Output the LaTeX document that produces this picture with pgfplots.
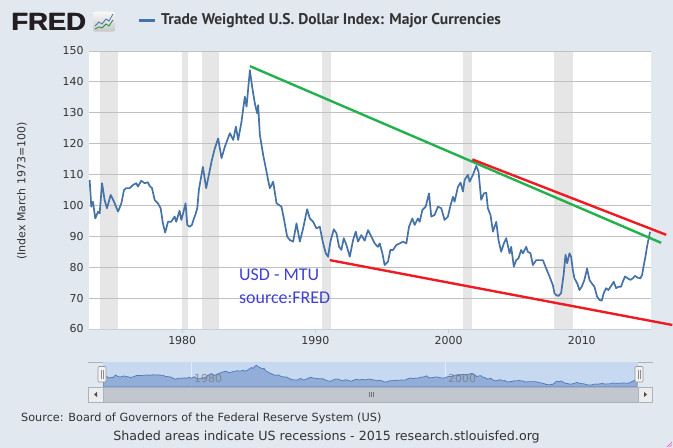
\documentclass[border=0pt]{standalone}
\usepackage{pgfplots}
\usepackage{pgfplotstable}
\pgfplotsset{compat=1.18}
\usepackage{fontspec}
\setmainfont{DejaVu Sans}
\newfontfamily\ptsans{PT Sans}
\newfontfamily\carlito{Carlito}
\newfontfamily\libsans{Liberation Sans}

\definecolor{pagebg}{RGB}{225,232,240}
\definecolor{gridgray}{RGB}{192,192,192}
\definecolor{recgray}{RGB}{230,230,230}
\definecolor{fredblue}{RGB}{69,114,167}
\definecolor{trendgreen}{RGB}{34,177,76}
\definecolor{trendred}{RGB}{237,28,36}
\definecolor{annot}{RGB}{64,64,210}
\definecolor{txt}{RGB}{51,51,51}
\definecolor{axisblue}{RGB}{192,208,224}
\definecolor{navbg}{RGB}{198,217,240}
\definecolor{navfill}{RGB}{137,166,212}
\definecolor{navline}{RGB}{80,120,180}
\definecolor{scrollgray}{RGB}{194,199,207}
\definecolor{navborder}{RGB}{170,178,190}
\definecolor{logoblack}{RGB}{35,31,32}

\pgfplotstableread{
year value
1973.05 108.2
1973.17 99.6
1973.30 101.2
1973.47 95.8
1973.68 98.0
1973.80 97.4
1973.98 107.2
1974.17 101.8
1974.35 99.1
1974.63 103.4
1974.88 101.2
1975.18 98.0
1975.43 100.7
1975.63 105.0
1975.80 105.6
1976.05 105.6
1976.30 106.6
1976.55 107.2
1976.68 106.1
1976.92 108.0
1977.18 107.2
1977.43 107.5
1977.55 106.3
1977.73 105.6
1977.93 101.8
1978.17 100.7
1978.38 99.1
1978.55 94.2
1978.72 91.2
1978.93 94.7
1979.17 94.7
1979.43 96.4
1979.55 94.7
1979.80 98.3
1979.93 95.3
1980.10 98.0
1980.25 100.7
1980.38 93.7
1980.55 93.1
1980.73 93.7
1980.88 95.8
1980.98 96.9
1981.13 99.1
1981.25 105.0
1981.55 112.5
1981.80 105.6
1982.20 114.2
1982.45 118.5
1982.70 121.7
1982.95 115.3
1983.20 119.0
1983.58 123.4
1983.83 121.2
1984.03 125.5
1984.20 121.2
1984.45 127.1
1984.70 135.2
1984.83 132.0
1985.08 143.8
1985.25 138.4
1985.45 133.1
1985.63 129.8
1985.70 132.5
1985.83 122.8
1986.08 116.3
1986.33 110.9
1986.45 108.2
1986.58 105.6
1986.83 107.7
1987.08 100.7
1987.45 99.6
1987.63 95.8
1987.88 89.9
1988.08 88.8
1988.33 88.3
1988.58 94.2
1988.83 88.3
1989.08 92.6
1989.38 98.8
1989.58 95.8
1989.83 94.7
1990.08 92.6
1990.33 93.1
1990.58 87.7
1990.78 84.5
1990.95 83.4
1991.13 88.3
1991.38 92.3
1991.58 91.0
1991.78 86.6
1991.95 85.6
1992.13 89.4
1992.33 87.2
1992.58 83.4
1992.83 88.8
1993.03 91.5
1993.20 88.3
1993.45 90.4
1993.70 88.6
1993.95 92.0
1994.20 89.9
1994.45 87.7
1994.70 86.6
1994.83 87.7
1995.03 84.5
1995.20 80.7
1995.45 81.8
1995.63 85.6
1995.83 85.6
1996.08 87.2
1996.33 87.7
1996.58 88.3
1996.83 87.7
1997.03 93.1
1997.28 95.8
1997.45 93.7
1997.70 95.8
1997.83 94.7
1998.03 98.5
1998.28 99.6
1998.53 103.9
1998.70 96.4
1998.95 96.9
1999.20 99.6
1999.45 99.1
1999.70 95.3
1999.95 96.4
2000.15 100.1
2000.33 102.8
2000.45 101.2
2000.70 106.0
2000.90 107.4
2001.08 104.5
2001.20 108.2
2001.45 109.9
2001.58 107.7
2001.83 109.9
2002.08 112.8
2002.25 110.9
2002.45 101.8
2002.65 103.9
2002.83 104.1
2002.95 99.1
2003.15 96.9
2003.33 91.5
2003.58 94.7
2003.75 88.8
2003.95 85.0
2004.15 87.7
2004.33 89.4
2004.58 84.5
2004.70 86.6
2004.90 80.2
2005.08 82.3
2005.25 82.9
2005.45 85.6
2005.58 84.5
2005.83 86.6
2005.95 85.0
2006.15 84.5
2006.33 80.7
2006.58 82.3
2006.83 82.3
2007.08 82.3
2007.33 79.6
2007.58 77.0
2007.83 74.2
2007.95 71.6
2008.08 71.0
2008.25 70.7
2008.45 71.6
2008.65 78.0
2008.78 84.0
2008.90 81.3
2009.08 84.5
2009.20 83.4
2009.33 79.1
2009.45 76.4
2009.66 74.8
2009.83 72.6
2010.00 73.7
2010.20 75.9
2010.40 79.6
2010.58 75.9
2010.75 74.8
2010.95 73.7
2011.15 70.5
2011.33 69.4
2011.50 69.2
2011.65 71.6
2011.83 73.2
2012.00 72.6
2012.20 73.9
2012.40 75.3
2012.58 73.2
2012.75 73.7
2012.95 73.7
2013.08 75.3
2013.25 77.0
2013.45 76.4
2013.66 75.9
2013.83 76.4
2014.00 77.2
2014.20 76.6
2014.40 76.4
2014.53 77.5
2014.66 80.7
2014.78 83.4
2014.90 86.6
2015.03 89.4
2015.13 91.5
}\usdtable

\begin{document}
\begin{tikzpicture}
% page background and plot area
\fill[pagebg] (0,0) rectangle (673bp,448bp);
\fill[white] (89bp,119bp) rectangle (651bp,397bp);

\begin{axis}[
  at={(89bp,119bp)}, anchor=south west,
  scale only axis, width=562bp, height=278bp,
  xmin=1973, xmax=2015.2, ymin=60, ymax=150,
  clip=false,
  axis lines*=left,
  y axis line style={draw=none},
  x axis line style={draw=axisblue, line width=0.8bp},
  ytick={60,70,80,90,100,110,120,130,140,150},
  xtick={1980,1990,2000,2010},
  xticklabels={1980,1990,2000,2010},
  tick align=outside, major tick length=4bp,
  ytick style={draw=none},
  xtick style={draw=axisblue, line width=0.8bp},
  tick label style={font=\fontsize{11}{13}\selectfont, text=txt},
  /pgf/number format/assume math mode=true,
  yticklabel style={xshift=2bp},
]
% recessions
\addplot[fill=recgray, draw=none, forget plot] coordinates {(1973.85,60)(1973.85,150)(1975.15,150)(1975.15,60)} -- cycle;
\addplot[fill=recgray, draw=none, forget plot] coordinates {(1979.98,60)(1979.98,150)(1980.45,150)(1980.45,60)} -- cycle;
\addplot[fill=recgray, draw=none, forget plot] coordinates {(1981.48,60)(1981.48,150)(1982.78,150)(1982.78,60)} -- cycle;
\addplot[fill=recgray, draw=none, forget plot] coordinates {(1990.47,60)(1990.47,150)(1991.15,150)(1991.15,60)} -- cycle;
\addplot[fill=recgray, draw=none, forget plot] coordinates {(2001.1,60)(2001.1,150)(2001.78,150)(2001.78,60)} -- cycle;
\addplot[fill=recgray, draw=none, forget plot] coordinates {(2007.9,60)(2007.9,150)(2009.35,150)(2009.35,60)} -- cycle;
% horizontal grid lines
\pgfplotsinvokeforeach{70,80,90,100,110,120,130,140,150}{
  \draw[gridgray, line width=0.8bp] (axis cs:1973,#1) -- (axis cs:2015.2,#1);
}
% data
\addplot[fredblue, line width=1.7bp, line join=round] table[x=year, y=value] {\usdtable};
% trend lines
\addplot[trendgreen, line width=2.4bp] coordinates {(1985.08,145.1)(2015.96,87.9)};
\addplot[trendred, line width=2.4bp] coordinates {(2001.78,114.9)(2016.34,90.5)};
\addplot[trendred, line width=2.4bp] coordinates {(1991.08,82.3)(2016.8,61.3)};
\end{axis}

% annotation
\node[anchor=base west, inner sep=0pt, text=annot, font=\carlito\fontsize{18}{20}\selectfont] at (239bp,167.3bp) {USD - MTU};
\node[anchor=base west, inner sep=0pt, text=annot, font=\carlito\fontsize{18}{20}\selectfont] at (239bp,144.7bp) {source:FRED};

% y label
\node[rotate=90, text=txt, font=\fontsize{11}{13}\selectfont] at (22bp,257bp) {(Index March 1973=100)};

% title
\draw[fredblue, line width=2.5bp] (139bp,427.3bp) -- (155bp,427.3bp);
\node[anchor=base west, inner sep=0pt, text=txt, font=\ptsans\bfseries\fontsize{15.6}{17}\selectfont] at (161bp,423bp) {Trade Weighted U.S. Dollar Index: Major Currencies};

% FRED logo (heavy)
\node[anchor=base west, inner sep=0pt, text=logoblack, font=\libsans\bfseries\fontsize{25}{27}\selectfont] at (11bp,417.3bp) {\scalebox{1.1}[1]{FRED}};
\node[anchor=base west, inner sep=0pt, text=logoblack, font=\libsans\bfseries\fontsize{25}{27}\selectfont] at (11.7bp,417.3bp) {\scalebox{1.1}[1]{FRED}};
\shade[top color=white!95!gray, bottom color=black!22, rounded corners=2bp] (93bp,416.3bp) rectangle (115bp,436.3bp);
\draw[fredblue, line width=0.8bp] (95bp,422bp) -- (99bp,426bp) -- (102bp,424bp) -- (106bp,429bp) -- (109bp,427bp) -- (113bp,434bp);
\draw[trendgreen!80!black, line width=0.8bp] (95bp,419bp) -- (99bp,421bp) -- (102bp,420bp) -- (106bp,424bp) -- (109bp,422bp) -- (113bp,428bp);

% navigator
\draw[navborder, line width=0.8bp] (88bp,86bp) -- (653bp,86bp);
\fill[navbg] (103bp,61bp) rectangle (638bp,85.6bp);
\draw[white!55!navbg, line width=0.6bp] (191.7bp,61bp) -- (191.7bp,85.6bp);
\draw[white!55!navbg, line width=0.6bp] (445.3bp,61bp) -- (445.3bp,85.6bp);
\begin{axis}[
  at={(103bp,61bp)}, anchor=south west,
  scale only axis, width=535bp, height=25bp,
  xmin=1973, xmax=2015.2, ymin=62, ymax=156,
  hide axis,
]
\addplot[fill=navfill, fill opacity=0.85, draw=navline, line width=0.7bp] table[x=year, y=value] {\usdtable} \closedcycle;
\end{axis}
\node[anchor=base west, inner sep=0pt, text=gray, opacity=0.85, font=\fontsize{11}{13}\selectfont] at (194bp,65.3bp) {1980};
\node[anchor=base west, inner sep=0pt, text=gray, opacity=0.85, font=\fontsize{11}{13}\selectfont] at (448bp,65.3bp) {2000};
% handles
\filldraw[fill=black!5, draw=black!40, line width=0.6bp, rounded corners=1bp] (98bp,66bp) rectangle (106bp,81.5bp);
\draw[black!45, line width=0.5bp] (101bp,69bp) -- (101bp,78bp) (103bp,69bp) -- (103bp,78bp);
\filldraw[fill=black!5, draw=black!40, line width=0.6bp, rounded corners=1bp] (635bp,66bp) rectangle (643bp,81.5bp);
\draw[black!45, line width=0.5bp] (638bp,69bp) -- (638bp,78bp) (640bp,69bp) -- (640bp,78bp);
% scrollbar
\fill[scrollgray] (103bp,46bp) rectangle (638bp,61bp);
\filldraw[fill=black!7, draw=navborder, line width=0.6bp] (88.5bp,46bp) rectangle (103bp,61bp);
\filldraw[fill=black!7, draw=navborder, line width=0.6bp] (638bp,46bp) rectangle (652.5bp,61bp);
\fill[black!70] (94bp,53.5bp) -- (97bp,51bp) -- (97bp,56bp) -- cycle;
\fill[black!70] (647bp,53.5bp) -- (644bp,51bp) -- (644bp,56bp) -- cycle;
\draw[navborder, line width=0.6bp] (88.5bp,46bp) rectangle (652.5bp,61bp);
\draw[black!55, line width=0.5bp] (369bp,51bp) -- (369bp,56bp) (371bp,51bp) -- (371bp,56bp) (373bp,51bp) -- (373bp,56bp);

% source and footer
\node[anchor=base west, inner sep=0pt, text=txt, font=\fontsize{11.3}{13}\selectfont] at (21bp,27bp) {Source: Board of Governors of the Federal Reserve System (US)};
\node[anchor=base, inner sep=0pt, text=txt, font=\fontsize{12.7}{14}\selectfont] at (326.5bp,8bp) {Shaded areas indicate US recessions - 2015 research.stlouisfed.org};
% resize mark
\draw[magenta!70, line width=0.5bp] (667bp,1bp) -- (672bp,6bp) (669.5bp,1bp) -- (672bp,3.5bp);

\pgfresetboundingbox
\path[use as bounding box] (0,0) rectangle (673bp,448bp);
\end{tikzpicture}
\end{document}
